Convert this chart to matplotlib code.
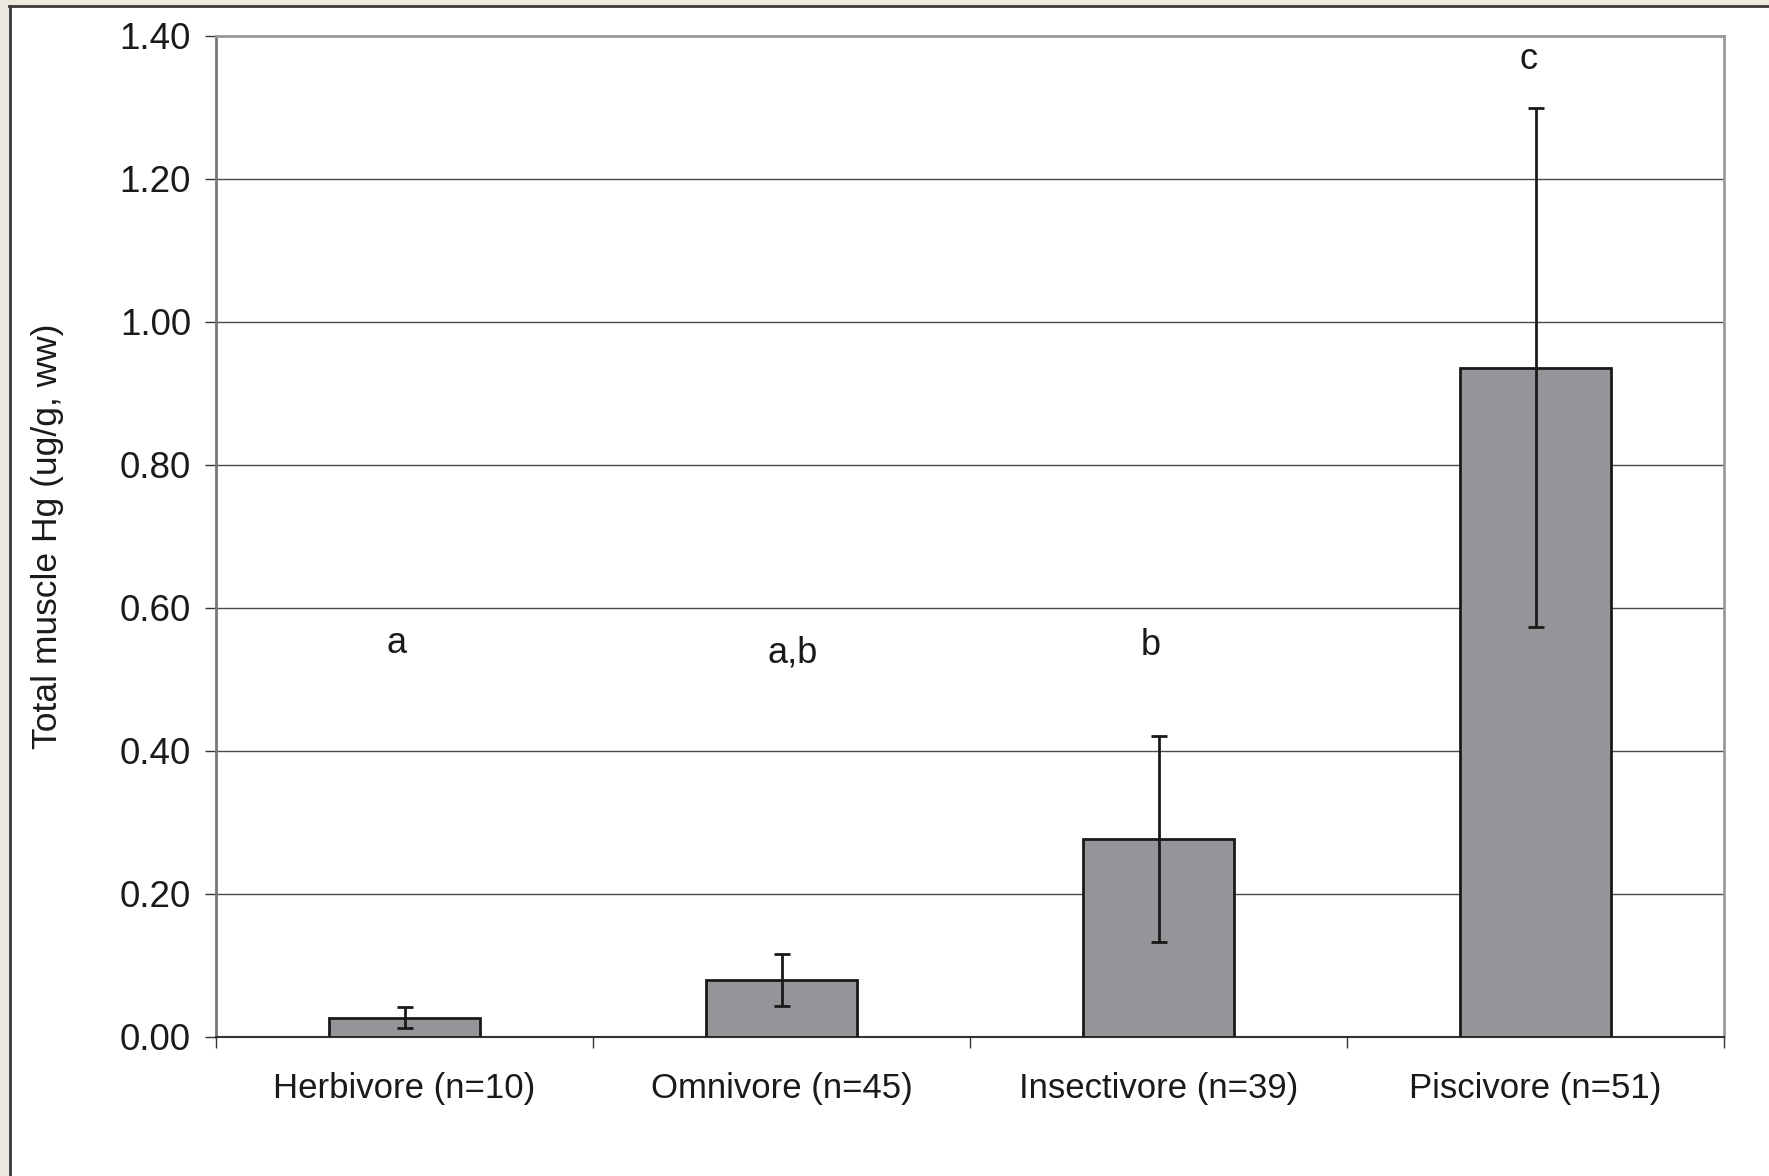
import numpy as np
import matplotlib.pyplot as plt
from matplotlib.patches import Rectangle
from matplotlib.lines import Line2D

plt.rcParams['font.family'] = ['Liberation Sans', 'DejaVu Sans']

# data
categories = ["Herbivore (n=10)", "Omnivore (n=45)", "Insectivore (n=39)", "Piscivore (n=51)"]
mean_hg = [0.027, 0.080, 0.277, 0.936]
err_hg = [0.015, 0.036, 0.144, 0.363]
letters = ["a", "a,b", "b", "c"]
letter_y = [0.550, 0.537, 0.548, 1.367]
letter_dx = [-0.02, 0.03, -0.02, -0.02]

fig = plt.figure(figsize=(17.69, 11.76), dpi=100)
fig.patch.set_facecolor("#ece9df")

# white panel with dark line on left and top
fig.patches.append(Rectangle((10 / 1769, 0), 1, 1 - 7 / 1176, transform=fig.transFigure,
                             facecolor="white", edgecolor="none", zorder=-10))
fig.lines.append(Line2D([10 / 1769, 10 / 1769], [0, 1 - 6 / 1176], transform=fig.transFigure,
                        color="#3a3a3a", lw=2, zorder=-5))
fig.lines.append(Line2D([9 / 1769, 1], [1 - 6 / 1176, 1 - 6 / 1176], transform=fig.transFigure,
                        color="#3a3a3a", lw=2, zorder=-5))

ax = fig.add_axes([0.1221, 0.1182, 0.8525, 0.8512])
ax.set_zorder(1)
ax.set_facecolor("white")

x = np.arange(len(categories))
ax.bar(x, mean_hg, width=0.40, color="#939598", edgecolor="#1a1a1a", linewidth=2, zorder=3)
ax.errorbar(x, mean_hg, yerr=err_hg, fmt="none", ecolor="#1a1a1a", elinewidth=2,
            capsize=6, capthick=2, zorder=4)

for i in range(len(categories)):
    ax.text(x[i] + letter_dx[i], letter_y[i], letters[i], ha="center", va="center",
            fontsize=26, color="#1a1a1a")

ax.set_xlim(-0.5, 3.5)
ax.set_ylim(0, 1.4)
ax.set_yticks(np.arange(0, 1.41, 0.2))
ax.set_yticklabels([f"{v:.2f}" for v in np.arange(0, 1.41, 0.2)])
ax.yaxis.grid(True, color="#4a4a4a", lw=1)
ax.set_axisbelow(True)

ax.set_xticks(x)
ax.set_xticklabels(categories)
ax.set_xticks(np.arange(-0.5, 3.6, 1), minor=True)
ax.tick_params(axis="x", which="major", length=0, pad=25, labelsize=25, labelcolor="#1a1a1a")
ax.tick_params(axis="x", which="minor", length=8, width=1, color="#333333", direction="out")
ax.tick_params(axis="y", length=8, width=1, color="#333333", pad=10, labelsize=26.5,
               labelcolor="#1a1a1a")

ax.set_ylabel("Total muscle Hg (ug/g, ww)", fontsize=25.5, color="#1a1a1a")
ax.yaxis.set_label_coords(-0.101, 0.5)

for s in ["top", "right"]:
    ax.spines[s].set_color("#9a9a9a")
    ax.spines[s].set_linewidth(2)
ax.spines["left"].set_color("#777777")
ax.spines["left"].set_linewidth(2)
ax.spines["bottom"].set_color("#333333")
ax.spines["bottom"].set_linewidth(1.5)

fig.savefig("out.png", dpi=100, facecolor=fig.get_facecolor())
